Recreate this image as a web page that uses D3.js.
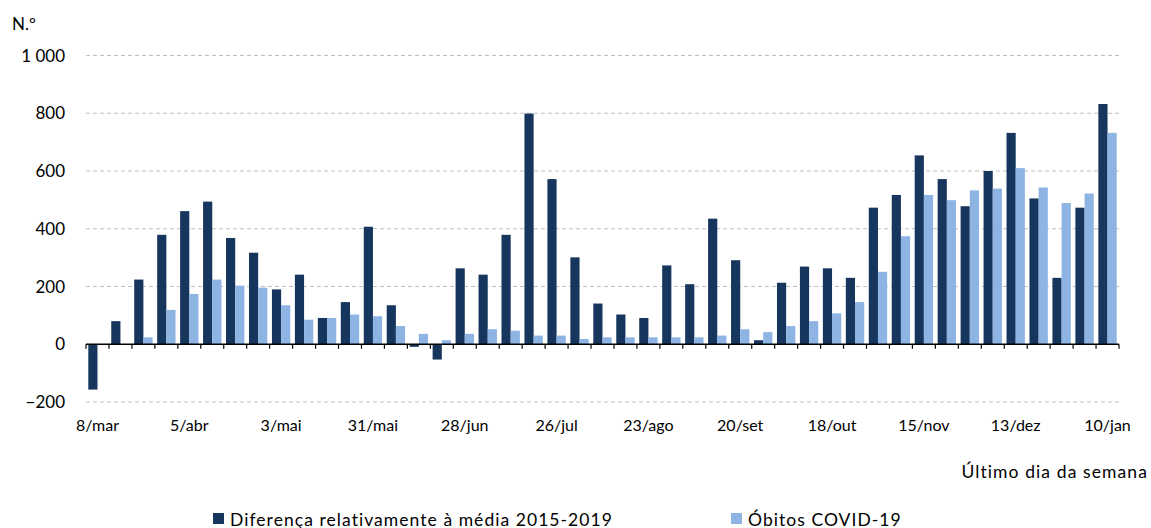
<!DOCTYPE html>
<html>
<head>
<meta charset="utf-8">
<script src="https://cdn.jsdelivr.net/npm/d3@7"></script>
<style>
  body { margin: 0; background: #fff; }
  text { font-family: Lato, "Open Sans", sans-serif; fill: #000; }
</style>
</head>
<body>
<svg id="graph"></svg>
<script>
// weeks (last day of the week), 8/mar/2020 .. 10/jan/2021
var weeks = ["8/mar","15/mar","22/mar","29/mar","5/abr","12/abr","19/abr","26/abr",
  "3/mai","10/mai","17/mai","24/mai","31/mai","7/jun","14/jun","21/jun","28/jun",
  "5/jul","12/jul","19/jul","26/jul","2/ago","9/ago","16/ago","23/ago","30/ago",
  "6/set","13/set","20/set","27/set","4/out","11/out","18/out","25/out",
  "1/nov","8/nov","15/nov","22/nov","29/nov","6/dez","13/dez","20/dez","27/dez",
  "3/jan","10/jan"];

// Diferença relativamente à média 2015-2019
var diferenca = [-157, 80, 224, 379, 461, 494, 368, 317, 190, 241, 91, 146, 407, 135,
  -9, -53, 263, 241, 379, 799, 572, 301, 141, 103, 91, 273, 208, 435, 291, 14,
  213, 269, 263, 230, 473, 517, 654, 572, 478, 600, 732, 505, 230, 473, 832];

// Óbitos COVID-19
var obitos = [0, 0, 24, 119, 174, 224, 203, 196, 135, 85, 91, 103, 97, 63,
  36, 14, 36, 52, 47, 30, 30, 18, 24, 24, 24, 24, 24, 30, 52, 42,
  63, 80, 107, 146, 251, 374, 517, 499, 533, 539, 610, 543, 489, 522, 732];

var yTicks = [-200, 0, 200, 400, 600, 800, 1000];
var xLabelEvery = 4;

var seriesNames = ["Diferença relativamente à média 2015-2019", "Óbitos COVID-19"];
var colors = ["#17365d", "#8db4e2"];

var svg = d3.select("#graph")
    .attr("width", 1151)
    .attr("height", 528);

var plotLeft = 86, plotRight = 1119, plotTop = 55.5, plotBottom = 402;

var x = d3.scaleBand().domain(weeks).range([plotLeft, plotRight]).padding(0);
var x1 = d3.scaleBand().domain([0, 1])
    .range([x.bandwidth() * 0.1, x.bandwidth() * 0.9]).padding(0);
var y = d3.scaleLinear().domain([-200, 1000]).range([plotBottom, plotTop]);

// gridlines
svg.append("g")
  .selectAll("line")
  .data(yTicks.filter(function(d) { return d != 0; }))
  .enter().append("line")
    .attr("x1", plotLeft)
    .attr("x2", plotRight)
    .attr("y1", function(d) { return y(d); })
    .attr("y2", function(d) { return y(d); })
    .attr("stroke", "#bfbfbf")
    .attr("stroke-width", 1)
    .attr("stroke-dasharray", "4,3");

// y labels
svg.append("g")
  .selectAll("text")
  .data(yTicks)
  .enter().append("text")
    .attr("x", 65)
    .attr("y", function(d) { return y(d); })
    .attr("dy", "0.36em")
    .attr("text-anchor", "end")
    .style("font-size", "17px")
    .text(function(d) { return d3.format(",")(d).replace(",", " "); });

svg.append("text")
    .attr("x", 12)
    .attr("y", 30)
    .style("font-size", "17px")
    .text("N.º");

var data = weeks.map(function(w, i) { return { week: w, values: [diferenca[i], obitos[i]] }; });

var groups = svg.append("g")
  .selectAll("g")
  .data(data)
  .enter().append("g")
    .attr("transform", function(d) { return "translate(" + x(d.week) + ",0)"; });

groups.selectAll("rect")
  .data(function(d) { return d.values.map(function(v, k) { return { k: k, v: v }; }); })
  .enter().append("rect")
    .attr("x", function(d) { return x1(d.k); })
    .attr("width", x1.bandwidth())
    .attr("y", function(d) { return y(Math.max(0, d.v)); })
    .attr("height", function(d) { return Math.abs(y(d.v) - y(0)); })
    .attr("fill", function(d) { return colors[d.k]; });

// zero axis with ticks at week boundaries
var axis = svg.append("g");
axis.append("line")
    .attr("x1", plotLeft)
    .attr("x2", plotRight)
    .attr("y1", y(0))
    .attr("y2", y(0))
    .attr("stroke", "#000")
    .attr("stroke-width", 1.5);

axis.selectAll(".tick")
  .data(weeks.map(function(w) { return x(w); }).concat([plotRight]))
  .enter().append("line")
    .attr("class", "tick")
    .attr("x1", function(d) { return d; })
    .attr("x2", function(d) { return d; })
    .attr("y1", y(0))
    .attr("y2", y(0) + 4.5)
    .attr("stroke", "#000")
    .attr("stroke-width", 1.2);

// x labels
svg.append("g")
  .selectAll("text")
  .data(weeks.filter(function(w, i) { return i % xLabelEvery == 0; }))
  .enter().append("text")
    .attr("x", function(d) { return x(d) + x.bandwidth() / 2; })
    .attr("y", 431)
    .attr("text-anchor", "middle")
    .style("font-size", "16px")
    .text(function(d) { return d; });

svg.append("text")
    .attr("x", 1148)
    .attr("y", 478)
    .attr("text-anchor", "end")
    .style("font-size", "17.5px")
    .style("letter-spacing", "1.1px")
    .text("Último dia da semana");

// legend
var legendX = [213, 731];
var legend = svg.append("g")
  .selectAll("g")
  .data(seriesNames)
  .enter().append("g")
    .attr("transform", function(d, i) { return "translate(" + legendX[i] + ",513)"; });

legend.append("rect")
    .attr("width", 11)
    .attr("height", 11)
    .attr("fill", function(d, i) { return colors[i]; });

legend.append("text")
    .attr("x", 17)
    .attr("y", 12.5)
    .style("font-size", "17.5px")
    .style("letter-spacing", "1.05px")
    .text(function(d) { return d; });
</script>
</body>
</html>
